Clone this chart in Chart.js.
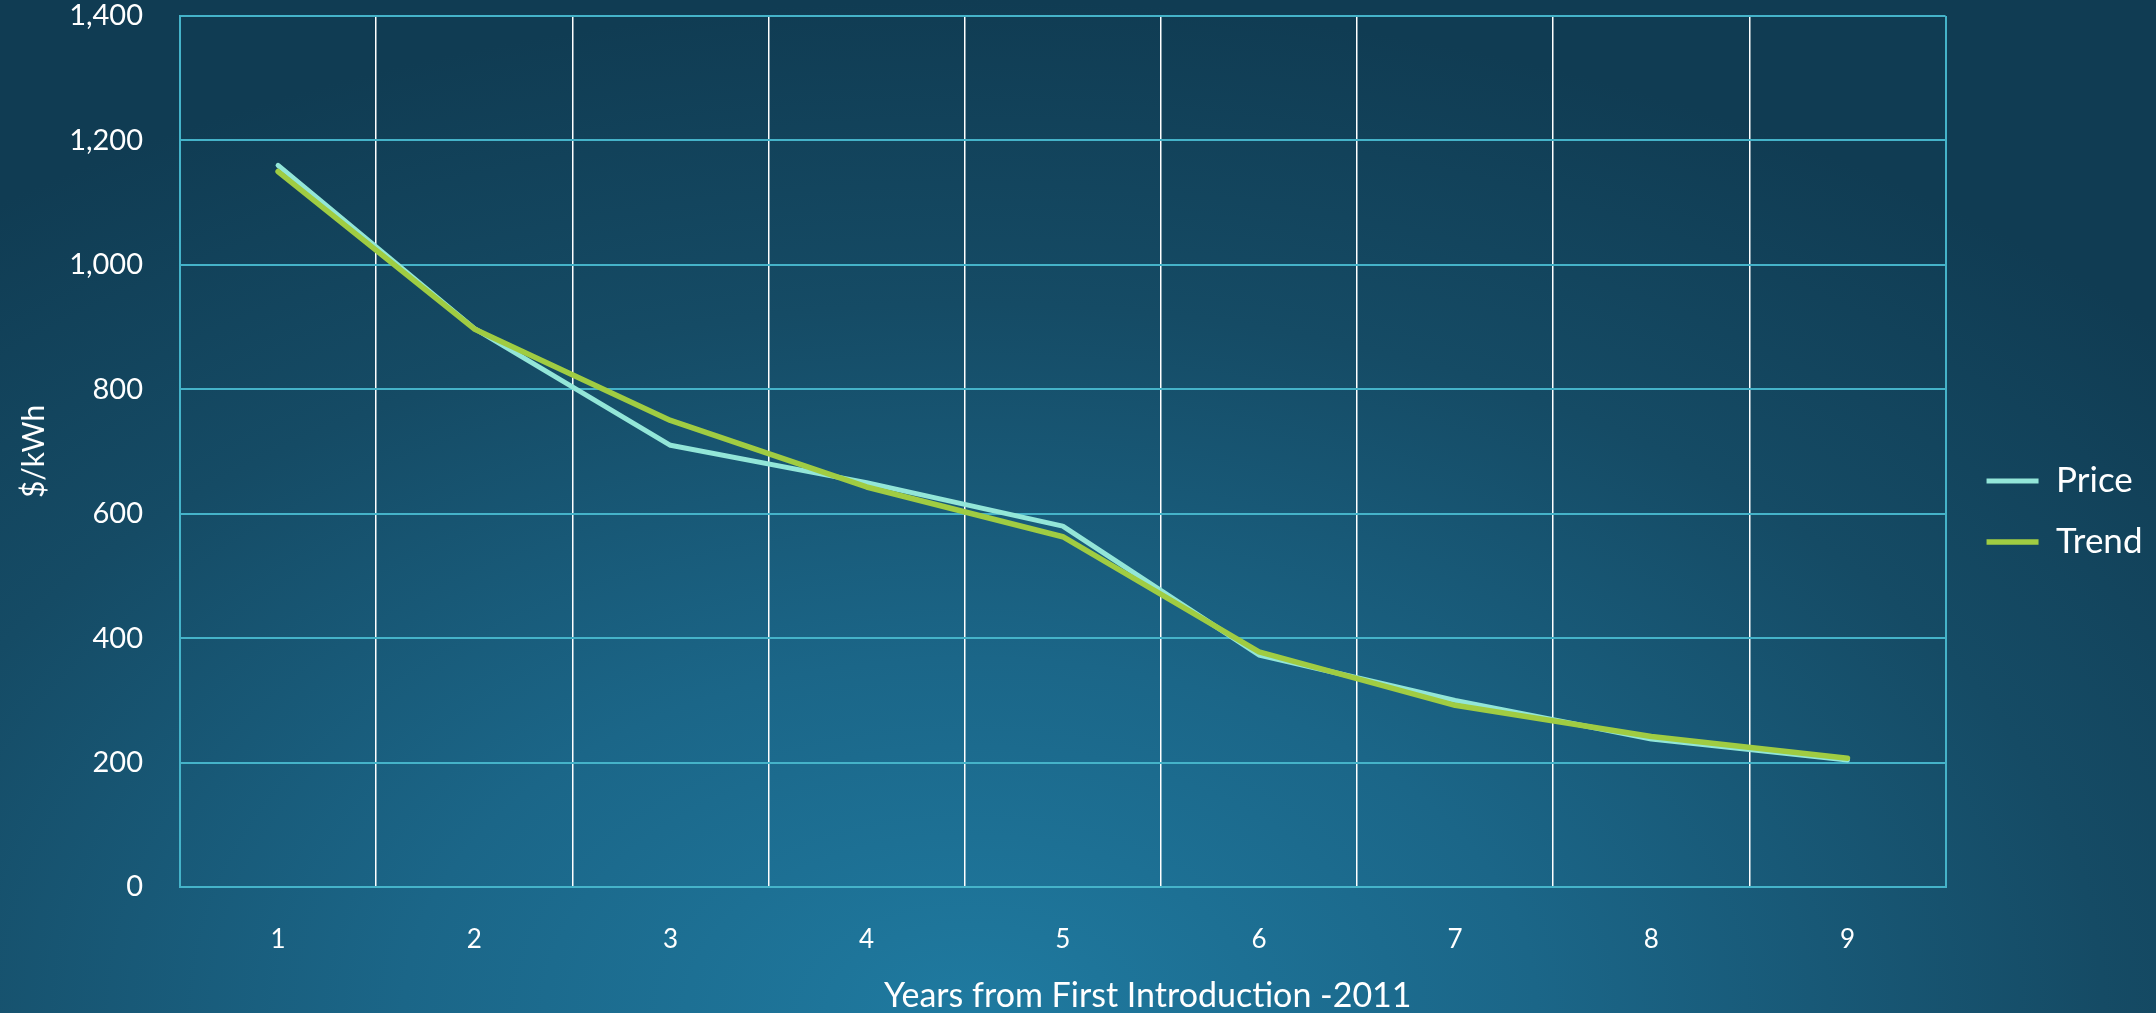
<!DOCTYPE html>
<html>
<head>
<meta charset="utf-8">
<script src="https://cdn.jsdelivr.net/npm/chart.js@4.4.1/dist/chart.umd.min.js"></script>
<style>
  html, body { margin: 0; padding: 0; width: 2156px; height: 1013px; overflow: hidden; }
  body {
    background: radial-gradient(ellipse 75% 100% at 45% 100%, #1f7aa0 0%, #1b6688 35%, #154b65 70%, #103c53 100%);
  }
  canvas { display: block; }
</style>
</head>
<body>
<canvas id="chart" width="2156" height="1013"></canvas>
<script>
// Battery pack price by year since first introduction
const years = ['1', '2', '3', '4', '5', '6', '7', '8', '9'];
const price = [1160, 898, 710, 650, 580, 373, 300, 238, 204];
const trend = [1150, 897, 750, 643, 563, 378, 292, 242, 207];
const seriesNames = ['Price', 'Trend'];
const yRange = [0, 1400];
const yStep = 200;

const FONT = 'Lato, "Open Sans", sans-serif';
const CYAN_GRID = '#45b3c9';
const WHITE_GRID = '#ffffff';
const X_TITLE_SHIFT = 85;

// Nudges the legend block a little right/up from its default slot
const legendNudge = {
  id: 'legendNudge',
  afterLayout(chart) {
    const lg = chart.legend;
    if (!lg) return;
    lg.left += 15; lg.right += 15;
    lg.top -= 3; lg.bottom -= 3;
  }
};

// Draws the x-axis title slightly right of the axis centre
function shiftXTitle(scale) {
  if (scale._titleShifted) return;
  const draw = scale.drawTitle.bind(scale);
  scale.drawTitle = function () {
    const ctx = this.ctx;
    ctx.save();
    ctx.translate(X_TITLE_SHIFT, 0);
    draw();
    ctx.restore();
  };
  scale._titleShifted = true;
}

new Chart(document.getElementById('chart'), {
  type: 'line',
  data: {
    labels: years,
    datasets: [
      {
        label: seriesNames[0],
        data: price,
        borderColor: '#93e6d8',
        backgroundColor: '#93e6d8',
        borderWidth: 5,
        borderCapStyle: 'round',
        borderJoinStyle: 'round',
        pointRadius: 0,
        tension: 0,
        order: 1
      },
      {
        label: seriesNames[1],
        data: trend,
        borderColor: '#a0cc42',
        backgroundColor: '#a0cc42',
        borderWidth: 5.5,
        borderCapStyle: 'round',
        borderJoinStyle: 'round',
        pointRadius: 0,
        tension: 0,
        order: 0
      }
    ]
  },
  plugins: [legendNudge],
  options: {
    responsive: false,
    devicePixelRatio: 1,
    animation: false,
    layout: { padding: { top: 16, right: 18.5, bottom: 0, left: 0 } },
    plugins: {
      tooltip: { enabled: false },
      legend: {
        position: 'right',
        labels: {
          color: '#ffffff',
          font: { family: FONT, size: 35 },
          usePointStyle: true,
          pointStyle: 'line',
          pointStyleWidth: 52,
          padding: 26,
          sort: (a, b) => a.datasetIndex - b.datasetIndex
        }
      }
    },
    scales: {
      x: {
        offset: true,
        afterFit: (scale) => { scale.height = 126; },
        afterUpdate: shiftXTitle,
        grid: {
          offset: true,
          drawTicks: false,
          lineWidth: (ctx) => (ctx.index === 0 || ctx.index === undefined) ? 2 : 1.5,
          color: (ctx) => (ctx.index === 0 || ctx.index === undefined) ? CYAN_GRID : WHITE_GRID
        },
        border: { display: true, color: CYAN_GRID, width: 2 },
        ticks: {
          color: '#ffffff',
          font: { family: FONT, size: 26 },
          padding: 37,
          maxRotation: 0
        },
        title: {
          display: true,
          text: 'Years from First Introduction -2011',
          color: '#ffffff',
          font: { family: FONT, size: 34 },
          padding: { top: 10, bottom: -3 }
        }
      },
      y: {
        min: yRange[0],
        max: yRange[1],
        afterFit: (scale) => {
          scale.width = 180;
          scale.paddingTop = 0;
          scale.paddingBottom = 0;
        },
        grid: { color: CYAN_GRID, lineWidth: 2, drawTicks: false },
        border: { display: true, color: CYAN_GRID, width: 2 },
        ticks: {
          stepSize: yStep,
          color: '#ffffff',
          font: { family: FONT, size: 29 },
          padding: 37
        },
        title: {
          display: true,
          text: '$/kWh',
          color: '#ffffff',
          font: { family: FONT, size: 30 },
          padding: { top: 16, bottom: 0 }
        }
      }
    }
  }
});
</script>
</body>
</html>
